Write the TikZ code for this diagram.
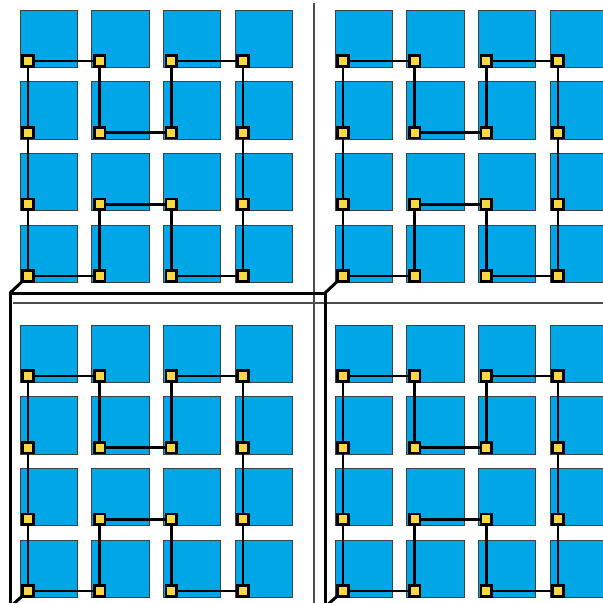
\documentclass[tikz,border=0pt]{standalone}
\usepackage{xcolor}
\usepackage{tikz}
\usetikzlibrary{calc}

\definecolor{cellblue}{RGB}{0,166,230}
\definecolor{nodeyellow}{RGB}{248,216,64}

\begin{document}
\begin{tikzpicture}[
    x=1pt, y=-1pt,
    cell/.style={draw=black!75, line width=1pt, fill=cellblue},
    site/.style={draw=black, line width=2.6pt, fill=nodeyellow, minimum size=10.5pt,
                 inner sep=0pt, outer sep=0pt},
    link/.style={line width=2.5pt, black},
    frame/.style={line width=3pt, black, line join=miter},
    divider/.style={line width=1.2pt, black!70}
  ]
  \clip (0,0) rectangle (603,603);

  % --- cells and sites, four quadrants of 4x4 ---
  \foreach \qx in {0,1} {
    \foreach \qy in {0,1} {
      \foreach \c in {0,...,3} {
        \foreach \r in {0,...,3} {
          \path[cell] ({20+315*\qx+71.67*\c},{10+315*\qy+71.67*\r})
                      rectangle ++(57.5,57.5);
          \coordinate (n-\qx-\qy-\c-\r) at ({28+315*\qx+71.67*\c},{61+315*\qy+71.67*\r});
        }
      }
    }
  }

  % --- thin dividers ---
  \coordinate (vtop) at (314,3);
  \coordinate (vbot) at (314,603);
  \coordinate (hleft) at (13,303);
  \coordinate (hright) at (603,303);
  \draw[divider] (vtop) -- (vbot);
  \draw[divider] (hleft) -- (hright);

  % --- thick frame under the lower-left quadrant ---
  \coordinate (ftl) at (10,293);
  \coordinate (ftr) at (325,293);
  \coordinate (fbl) at (10,607);
  \coordinate (fbr) at (325,607);
  \draw[frame] (fbl) -- (ftl) -- (ftr) -- (fbr);
  \draw[frame] (ftl) -- (n-0-0-0-3);
  \draw[frame] (ftr) -- (n-1-0-0-3);
  \draw[frame] (fbl) -- (n-0-1-0-3);
  \draw[frame] (fbr) -- (n-1-1-0-3);

  % --- closed loop through each quadrant ---
  \foreach \qx in {0,1} {
    \foreach \qy in {0,1} {
      \draw[link] (n-\qx-\qy-0-3) -- (n-\qx-\qy-0-2) -- (n-\qx-\qy-0-1) -- (n-\qx-\qy-0-0)
        -- (n-\qx-\qy-1-0) -- (n-\qx-\qy-1-1) -- (n-\qx-\qy-2-1) -- (n-\qx-\qy-2-0)
        -- (n-\qx-\qy-3-0) -- (n-\qx-\qy-3-1) -- (n-\qx-\qy-3-2) -- (n-\qx-\qy-3-3)
        -- (n-\qx-\qy-2-3) -- (n-\qx-\qy-2-2) -- (n-\qx-\qy-1-2) -- (n-\qx-\qy-1-3)
        -- cycle;
    }
  }

  % --- sites on top ---
  \foreach \qx in {0,1} {
    \foreach \qy in {0,1} {
      \foreach \c in {0,...,3} {
        \foreach \r in {0,...,3} {
          \node[site] (s-\qx-\qy-\c-\r) at (n-\qx-\qy-\c-\r) {};
        }
      }
    }
  }
\end{tikzpicture}
\end{document}
